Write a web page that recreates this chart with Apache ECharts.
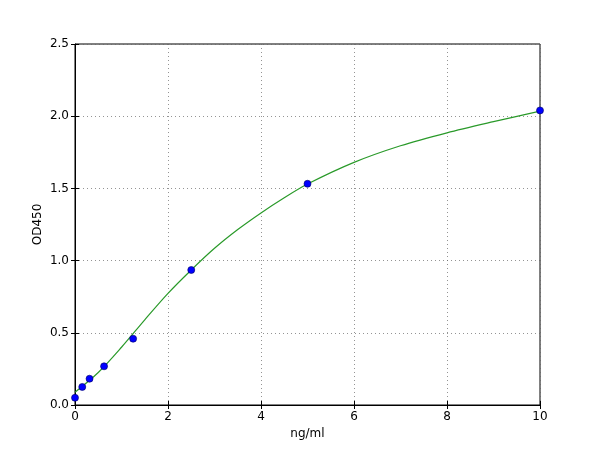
<!DOCTYPE html>
<html>
<head>
<meta charset="utf-8">
<script src="https://cdn.jsdelivr.net/npm/echarts@6/dist/echarts.min.js"></script>
<style>
  html, body { margin: 0; padding: 0; background: #fff; }
  #chart { width: 600px; height: 450px; }
</style>
</head>
<body>
<div id="chart"></div>
<script>
// standard points (concentration ng/ml, OD450)
const stdConc = [0, 0.156, 0.3125, 0.625, 1.25, 2.5, 5, 10]
const stdOD = [0.05, 0.125, 0.182, 0.268, 0.459, 0.935, 1.532, 2.04]

// fitted curve
const curveConc = [0, 0.5, 1, 1.5, 2, 2.5, 3, 3.5, 4, 4.5, 5, 6, 7, 8, 9, 10]
const curveOD = [0.088, 0.225, 0.40, 0.59, 0.773, 0.935, 1.085, 1.215, 1.33, 1.435, 1.53, 1.68, 1.795, 1.885, 1.962, 2.035]

const xTicks = [0, 2, 4, 6, 8, 10]
const yTicks = [0, 0.5, 1, 1.5, 2, 2.5]

const font = 'DejaVu Sans'

const chart = echarts.init(document.getElementById('chart'))

// hidden axes on top/right only draw the inward ticks
const sideAxis = {
  axisLine: { show: false },
  axisLabel: { show: false },
  splitLine: { show: false },
  axisTick: { show: true, inside: true, length: 4, lineStyle: { color: '#000' } }
}

const option = {
  animation: false,
  backgroundColor: '#fff',
  grid: {
    left: 75, right: 60, top: 44, bottom: 45,
    show: true, borderColor: '#000', borderWidth: 1, backgroundColor: 'transparent'
  },
  xAxis: [
    {
      type: 'value',
      min: xTicks[0],
      max: xTicks[xTicks.length - 1],
      interval: 2,
      name: 'ng/ml',
      nameLocation: 'middle',
      nameGap: 23,
      nameMoveOverlap: false,
      nameTextStyle: { fontFamily: font, fontSize: 12, color: '#000' },
      axisLine: { show: true, lineStyle: { color: '#000' } },
      axisTick: { show: true, inside: true, length: 4, lineStyle: { color: '#000' } },
      axisLabel: { fontFamily: font, fontSize: 12, color: '#000', margin: 6 },
      splitLine: { show: true, lineStyle: { color: '#666', type: [1, 3], width: 0.7 } }
    },
    Object.assign({ type: 'value', position: 'top', min: 0, max: 10, interval: 2 }, sideAxis)
  ],
  yAxis: [
    {
      type: 'value',
      min: yTicks[0],
      max: yTicks[yTicks.length - 1],
      interval: 0.5,
      name: 'OD450',
      nameLocation: 'middle',
      nameGap: 31,
      nameMoveOverlap: false,
      nameTextStyle: { fontFamily: font, fontSize: 12, color: '#000' },
      axisLine: { show: true, lineStyle: { color: '#000' } },
      axisTick: { show: true, inside: true, length: 4, lineStyle: { color: '#000' } },
      axisLabel: {
        fontFamily: font, fontSize: 12, color: '#000', margin: 6,
        formatter: v => v.toFixed(1)
      },
      splitLine: { show: true, lineStyle: { color: '#666', type: [1, 3], width: 0.7 } }
    },
    Object.assign({ type: 'value', position: 'right', min: 0, max: 2.5, interval: 0.5 }, sideAxis)
  ],
  series: [
    {
      type: 'line',
      data: curveConc.map((c, i) => [c, curveOD[i]]),
      smooth: 0.3,
      showSymbol: false,
      lineStyle: { color: '#2a9a2a', width: 1.2 },
      z: 2
    },
    {
      type: 'scatter',
      data: stdConc.map((c, i) => [c, stdOD[i]]),
      symbolSize: 7,
      itemStyle: { color: '#0000ff', borderColor: '#000060', borderWidth: 0.6, opacity: 1 },
      z: 3
    }
  ]
}

chart.setOption(option)
</script>
</body>
</html>
